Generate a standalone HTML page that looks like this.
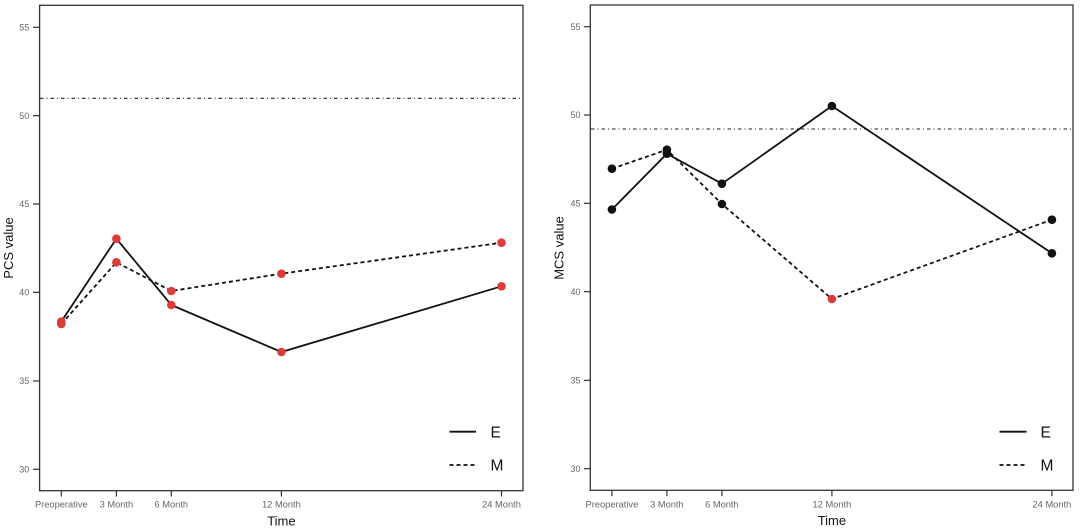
<!DOCTYPE html>
<html>
<head>
<meta charset="utf-8">
<style>
html,body{margin:0;padding:0;background:#fff;}
svg{display:block;}
text{font-family:"Liberation Sans",Arial,sans-serif;}
</style>
</head>
<body>
<svg width="1080" height="530" viewBox="0 0 1080 530" xmlns="http://www.w3.org/2000/svg">
<rect x="0" y="0" width="1080" height="530" fill="#fff"/>

<!-- ============ LEFT PANEL ============ -->
<g>
  <line x1="40" y1="98.3" x2="523" y2="98.3" stroke="#222" stroke-width="1.1" stroke-dasharray="3.5,3,1,3"/>
  <polyline points="61.3,324 116.4,262.3 171.3,291 281.4,273.7 501.5,242.7" fill="none" stroke="#111" stroke-width="1.8" stroke-dasharray="4,3"/>
  <polyline points="61.3,321.5 116.4,238.7 171.3,305 281.4,352 501.5,286.3" fill="none" stroke="#111" stroke-width="1.8"/>
  <g fill="#df3a36">
    <circle cx="61.3" cy="324" r="4.3"/>
    <circle cx="116.4" cy="262.3" r="4.3"/>
    <circle cx="171.3" cy="291" r="4.3"/>
    <circle cx="281.4" cy="273.7" r="4.3"/>
    <circle cx="501.5" cy="242.7" r="4.3"/>
    <circle cx="61.3" cy="321.5" r="4.3"/>
    <circle cx="116.4" cy="238.7" r="4.3"/>
    <circle cx="171.3" cy="305" r="4.3"/>
    <circle cx="281.4" cy="352" r="4.3"/>
    <circle cx="501.5" cy="286.3" r="4.3"/>
  </g>
  <rect x="39.6" y="5.3" width="483.4" height="485.4" fill="none" stroke="#333" stroke-width="1.3"/>
  <g stroke="#333" stroke-width="1.2">
    <line x1="33" y1="27.3" x2="39.6" y2="27.3"/>
    <line x1="33" y1="115.7" x2="39.6" y2="115.7"/>
    <line x1="33" y1="204" x2="39.6" y2="204"/>
    <line x1="33" y1="292.3" x2="39.6" y2="292.3"/>
    <line x1="33" y1="381" x2="39.6" y2="381"/>
    <line x1="33" y1="469.3" x2="39.6" y2="469.3"/>
  </g>
  <g font-size="9" fill="#666" text-anchor="end">
    <text x="29.3" y="30.5">55</text>
    <text x="29.3" y="118.9">50</text>
    <text x="29.3" y="207.2">45</text>
    <text x="29.3" y="295.5">40</text>
    <text x="29.3" y="384.2">35</text>
    <text x="29.3" y="472.5">30</text>
  </g>
  <g stroke="#333" stroke-width="1.2">
    <line x1="61.3" y1="490.7" x2="61.3" y2="496.5"/>
    <line x1="116.4" y1="490.7" x2="116.4" y2="496.5"/>
    <line x1="171.3" y1="490.7" x2="171.3" y2="496.5"/>
    <line x1="281.4" y1="490.7" x2="281.4" y2="496.5"/>
    <line x1="501.5" y1="490.7" x2="501.5" y2="496.5"/>
  </g>
  <g font-size="9.3" fill="#666" text-anchor="middle">
    <text x="61.3" y="507.7">Preoperative</text>
    <text x="116.4" y="507.7">3 Month</text>
    <text x="171.3" y="507.7">6 Month</text>
    <text x="281.4" y="507.7">12 Month</text>
    <text x="501.5" y="507.7">24 Month</text>
  </g>
  <text x="281.4" y="525.3" font-size="13" fill="#111" text-anchor="middle">Time</text>
  <text transform="translate(13,248) rotate(-90)" font-size="13" fill="#111" text-anchor="middle">PCS value</text>
  <line x1="449.5" y1="431.7" x2="476" y2="431.7" stroke="#111" stroke-width="1.8"/>
  <line x1="449.5" y1="465" x2="476" y2="465" stroke="#111" stroke-width="1.8" stroke-dasharray="4,3"/>
  <text x="490.5" y="437.3" font-size="15.5" fill="#111">E</text>
  <text x="490.5" y="470.6" font-size="15.5" fill="#111">M</text>
</g>

<!-- ============ RIGHT PANEL ============ -->
<g>
  <line x1="591" y1="129" x2="1073" y2="129" stroke="#222" stroke-width="1.1" stroke-dasharray="3.5,3,1,3"/>
  <polyline points="611.9,168.7 666.9,149.7 721.9,204 831.9,299 1051.9,219.7" fill="none" stroke="#111" stroke-width="1.8" stroke-dasharray="4,3"/>
  <polyline points="611.9,209.5 666.9,153.7 721.9,183.7 831.9,106 1051.9,253.3" fill="none" stroke="#111" stroke-width="1.8"/>
  <g fill="#111">
    <circle cx="611.9" cy="168.7" r="4.3"/>
    <circle cx="666.9" cy="149.7" r="4.3"/>
    <circle cx="721.9" cy="204" r="4.3"/>
    <circle cx="1051.9" cy="219.7" r="4.3"/>
    <circle cx="611.9" cy="209.5" r="4.3"/>
    <circle cx="666.9" cy="153.7" r="4.3"/>
    <circle cx="721.9" cy="183.7" r="4.3"/>
    <circle cx="831.9" cy="106" r="4.3"/>
    <circle cx="1051.9" cy="253.3" r="4.3"/>
  </g>
  <circle cx="831.9" cy="299" r="4.3" fill="#df3a36"/>
  <rect x="590.3" y="5" width="482.7" height="485.3" fill="none" stroke="#333" stroke-width="1.3"/>
  <g stroke="#333" stroke-width="1.2">
    <line x1="584" y1="26.7" x2="590.3" y2="26.7"/>
    <line x1="584" y1="115" x2="590.3" y2="115"/>
    <line x1="584" y1="203.3" x2="590.3" y2="203.3"/>
    <line x1="584" y1="291.7" x2="590.3" y2="291.7"/>
    <line x1="584" y1="380.3" x2="590.3" y2="380.3"/>
    <line x1="584" y1="468.7" x2="590.3" y2="468.7"/>
  </g>
  <g font-size="9" fill="#666" text-anchor="end">
    <text x="580.5" y="29.9">55</text>
    <text x="580.5" y="118.2">50</text>
    <text x="580.5" y="206.5">45</text>
    <text x="580.5" y="294.9">40</text>
    <text x="580.5" y="383.5">35</text>
    <text x="580.5" y="471.9">30</text>
  </g>
  <g stroke="#333" stroke-width="1.2">
    <line x1="611.9" y1="490.3" x2="611.9" y2="496.2"/>
    <line x1="666.9" y1="490.3" x2="666.9" y2="496.2"/>
    <line x1="721.9" y1="490.3" x2="721.9" y2="496.2"/>
    <line x1="831.9" y1="490.3" x2="831.9" y2="496.2"/>
    <line x1="1051.9" y1="490.3" x2="1051.9" y2="496.2"/>
  </g>
  <g font-size="9.3" fill="#666" text-anchor="middle">
    <text x="611.9" y="507.4">Preoperative</text>
    <text x="666.9" y="507.4">3 Month</text>
    <text x="721.9" y="507.4">6 Month</text>
    <text x="831.9" y="507.4">12 Month</text>
    <text x="1051.9" y="507.4">24 Month</text>
  </g>
  <text x="831.9" y="525" font-size="13" fill="#111" text-anchor="middle">Time</text>
  <text transform="translate(563.5,248) rotate(-90)" font-size="13" fill="#111" text-anchor="middle">MCS value</text>
  <line x1="999.5" y1="431.7" x2="1026.5" y2="431.7" stroke="#111" stroke-width="1.8"/>
  <line x1="999.5" y1="465" x2="1026.5" y2="465" stroke="#111" stroke-width="1.8" stroke-dasharray="4,3"/>
  <text x="1040.5" y="437.3" font-size="15.5" fill="#111">E</text>
  <text x="1040.5" y="470.6" font-size="15.5" fill="#111">M</text>
</g>
</svg>
</body>
</html>
